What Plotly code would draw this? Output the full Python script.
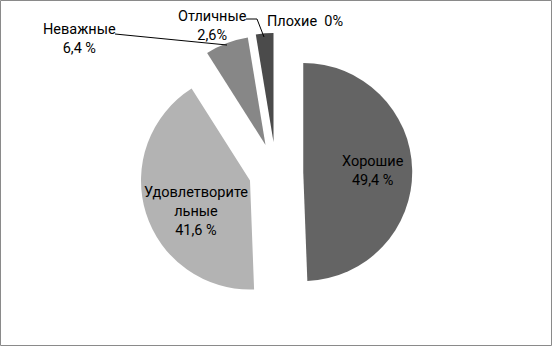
import plotly.graph_objects as go

# ---- data ----
categories = ["Хорошие", "Удовлетворительные", "Неважные", "Отличные", "Плохие"]
values = [49.4, 41.6, 6.4, 2.6, 0.0]
value_labels = ["49,4 %", "41,6 %", "6,4 %", "2,6%", "0%"]
label_texts = [
    "Хорошие<br>49,4 %",
    "Удовлетворите<br>льные<br>41,6 %",
    "Неважные<br>6,4 %",
    "Отличные<br>2,6%",
    "Плохие  0%",
]
colors = ["#646464", "#b3b3b3", "#878787", "#4b4b4b", "#333333"]
pulls = [0.25, 0.25, 0.27, 0.28, 0.28]

W, H = 552, 346


def px(x):
    return x / W


def py(y):
    return 1 - y / H


fig = go.Figure()
fig.add_trace(go.Pie(
    labels=categories,
    values=values,
    sort=False,
    direction="clockwise",
    rotation=0,
    pull=pulls,
    marker=dict(colors=colors, line=dict(width=0)),
    textinfo="none",
    hoverinfo="label+percent",
    showlegend=False,
    domain=dict(x=[0.1, 0.9], y=[0.0983, 0.9046]),
))

# label positions (centres, pixels)
label_pos = [(373, 170.5), (196, 211), (79, 39), (212.5, 26), (304.5, 21)]
font = dict(family="Roboto, Arial, sans-serif", size=14.5, color="#000000")
for txt, (x, y) in zip(label_texts, label_pos):
    fig.add_annotation(
        text=txt, x=px(x), y=py(y), xref="paper", yref="paper",
        xanchor="center", yanchor="middle", showarrow=False,
        font=font, align="center",
    )

# leader lines
fig.add_shape(type="path",
              path=f"M {px(115)} {py(34)} L {px(227)} {py(45)}",
              xref="paper", yref="paper", line=dict(color="#000000", width=1))
fig.add_shape(type="path",
              path=f"M {px(246)} {py(19)} L {px(257)} {py(19)} L {px(264)} {py(37)}",
              xref="paper", yref="paper", line=dict(color="#000000", width=1))

# outer border
fig.add_shape(type="rect", x0=px(0.5), x1=px(W - 0.5), y0=py(H - 0.5), y1=py(0.5),
              xref="paper", yref="paper", line=dict(color="#8a8a8a", width=1))

fig.update_layout(
    width=W, height=H, autosize=False,
    margin=dict(l=0, r=0, t=0, b=0),
    paper_bgcolor="#ffffff", plot_bgcolor="#ffffff",
)

fig.write_html("out.html")
